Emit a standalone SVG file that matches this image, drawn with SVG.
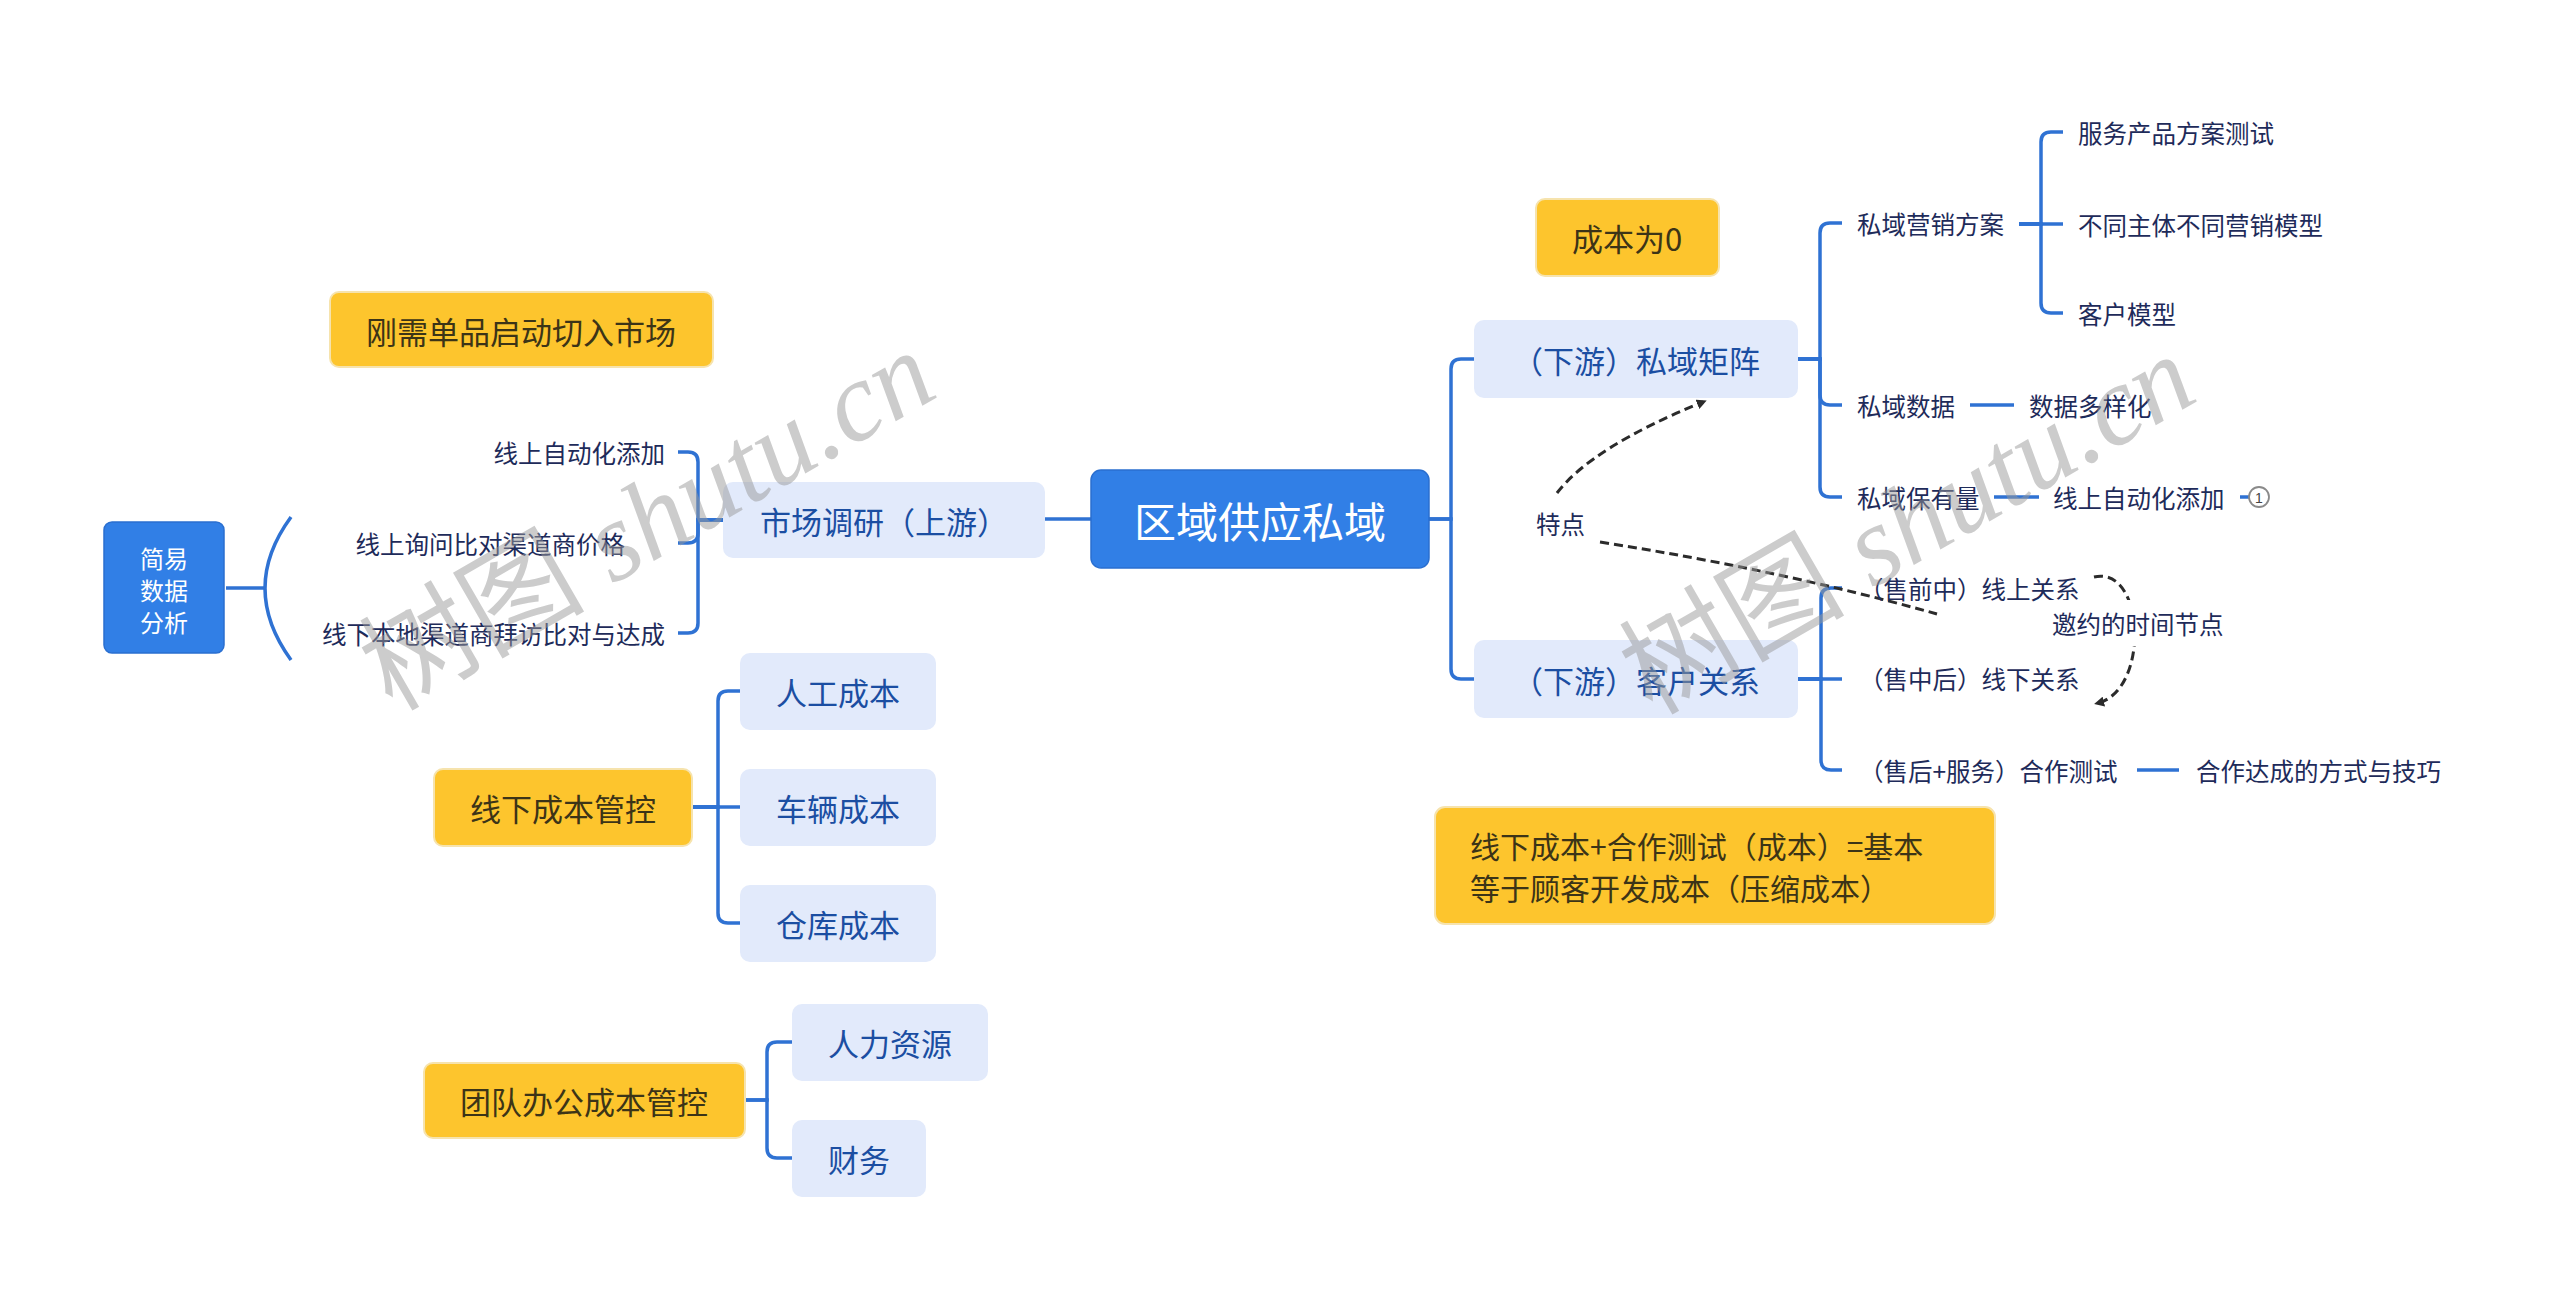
<svg xmlns="http://www.w3.org/2000/svg" width="2560" height="1303" viewBox="0 0 2560 1303">
<style>
.cn{font-family:"Noto Sans CJK SC","Noto Sans",sans-serif}
.main{fill:#317fe6;stroke:#2a6fd0;stroke-width:1.5}
.mainT{fill:#ffffff}
.sub{fill:#e2eafb}
.subT{fill:#1b4ea2;font-size:31px}
.yel{fill:#fdc52d;stroke:#f6e3ad;stroke-width:2}
.yelT{fill:#3c3417;font-size:31px}
.lbl{fill:#1e2b5a;font-size:24.5px}
.con{fill:none;stroke:#2f72d3;stroke-width:3.5;stroke-linecap:butt}
.dash{fill:none;stroke:#2b2b2b;stroke-width:3;stroke-dasharray:9 5}
.wm{font-family:"Liberation Serif","Noto Sans CJK SC",serif;font-size:113px;fill:#9a9a9a;opacity:0.5}
</style>
<defs>
<marker id="arr" markerWidth="10" markerHeight="10" refX="6" refY="5" orient="auto" markerUnits="userSpaceOnUse" viewBox="0 0 10 10">
<path d="M0,0 L10,5 L0,10 z" fill="#2b2b2b"/>
</marker>
</defs>
<rect width="2560" height="1303" fill="#ffffff"/>

<g id="connectors">
<path class="con" d="M1091 519 H1045"/>
<path class="con" d="M723 520 H698 V462 Q698 452 688 452 H678"/>
<path class="con" d="M723 520 H698 V533 Q698 543 688 543 H678"/>
<path class="con" d="M723 520 H698 V623 Q698 633 688 633 H678"/>
<path class="con" d="M226 588 H265"/>
<path class="con" d="M291 517 Q239 588 291 660"/>
<path class="con" d="M1429 519 H1451 V369 Q1451 359 1461 359 H1474"/>
<path class="con" d="M1429 519 H1451 V669 Q1451 679 1461 679 H1474"/>
<path class="con" d="M1798 359 H1820 V233 Q1820 223 1830 223 H1842"/>
<path class="con" d="M1798 359 H1820 V395 Q1820 405 1830 405 H1842"/>
<path class="con" d="M1798 359 H1820 V487 Q1820 497 1830 497 H1842"/>
<path class="con" d="M2019 224 H2041 V142 Q2041 132 2051 132 H2063"/>
<path class="con" d="M2019 224 H2063"/>
<path class="con" d="M2019 224 H2041 V303 Q2041 313 2051 313 H2063"/>
<path class="con" d="M1970 405 H2014"/>
<path class="con" d="M1994 497 H2039"/>
<path class="con" d="M2240 497 H2249"/>
<path class="con" d="M1798 679 H1821 V598 Q1821 588 1831 588 H1842"/>
<path class="con" d="M1798 679 H1842"/>
<path class="con" d="M1798 679 H1821 V760 Q1821 770 1831 770 H1842"/>
<path class="con" d="M2137 770 H2179"/>
<path class="con" d="M692 807 H718 V701 Q718 691 728 691 H740"/>
<path class="con" d="M692 807 H740"/>
<path class="con" d="M692 807 H718 V913 Q718 923 728 923 H740"/>
<path class="con" d="M745 1100 H767 V1052 Q767 1042 777 1042 H792"/>
<path class="con" d="M745 1100 H767 V1148 Q767 1158 777 1158 H792"/>
<path class="dash" d="M1557 493 Q1592 447 1703 402" marker-end="url(#arr)"/>
<path class="dash" d="M1600 542 Q1780 570 1937 614"/>
<path class="dash" d="M2094 577 C2145 565 2150 690 2098 703" marker-end="url(#arr)"/>
</g>

<g id="n-root">
<rect class="main" x="1091" y="470" width="338" height="98" rx="10"/>
<text class="cn mainT" x="1260" y="519" font-size="42" text-anchor="middle" dominant-baseline="central">区域供应私域</text>
</g>

<g id="n-market">
<rect class="sub" x="723" y="482" width="322" height="76" rx="10"/>
<text class="cn subT" x="884" y="520" text-anchor="middle" dominant-baseline="central">市场调研（上游）</text>
</g>
<g id="n-m1"><text class="cn lbl" x="665" y="452" text-anchor="end" dominant-baseline="central">线上自动化添加</text></g>
<g id="n-m2"><text class="cn lbl" x="625" y="543" text-anchor="end" dominant-baseline="central">线上询问比对渠道商价格</text></g>
<g id="n-m3"><text class="cn lbl" x="665" y="633" text-anchor="end" dominant-baseline="central">线下本地渠道商拜访比对与达成</text></g>

<g id="n-simple">
<rect class="main" x="104" y="522" width="120" height="131" rx="8"/>
<text class="cn mainT" font-size="24" text-anchor="middle" dominant-baseline="central"><tspan x="164" y="557">简易</tspan><tspan x="164" y="589">数据</tspan><tspan x="164" y="621">分析</tspan></text>
</g>

<g id="n-rigid">
<rect class="yel" x="330" y="292" width="383" height="75" rx="9"/>
<text class="cn yelT" x="521" y="330" text-anchor="middle" dominant-baseline="central">刚需单品启动切入市场</text>
</g>

<g id="n-offline">
<rect class="yel" x="434" y="769" width="258" height="77" rx="9"/>
<text class="cn yelT" x="563" y="807" text-anchor="middle" dominant-baseline="central">线下成本管控</text>
</g>
<g id="n-labor"><rect class="sub" x="740" y="653" width="196" height="77" rx="10"/><text class="cn subT" x="838" y="691" text-anchor="middle" dominant-baseline="central">人工成本</text></g>
<g id="n-vehicle"><rect class="sub" x="740" y="769" width="196" height="77" rx="10"/><text class="cn subT" x="838" y="807" text-anchor="middle" dominant-baseline="central">车辆成本</text></g>
<g id="n-store"><rect class="sub" x="740" y="885" width="196" height="77" rx="10"/><text class="cn subT" x="838" y="923" text-anchor="middle" dominant-baseline="central">仓库成本</text></g>

<g id="n-team">
<rect class="yel" x="424" y="1063" width="321" height="75" rx="9"/>
<text class="cn yelT" x="584" y="1100" text-anchor="middle" dominant-baseline="central">团队办公成本管控</text>
</g>
<g id="n-hr"><rect class="sub" x="792" y="1004" width="196" height="77" rx="10"/><text class="cn subT" x="890" y="1042" text-anchor="middle" dominant-baseline="central">人力资源</text></g>
<g id="n-fin"><rect class="sub" x="792" y="1120" width="134" height="77" rx="10"/><text class="cn subT" x="859" y="1158" text-anchor="middle" dominant-baseline="central">财务</text></g>

<g id="n-zero">
<rect class="yel" x="1536" y="199" width="183" height="77" rx="9"/>
<text class="cn yelT" x="1627" y="237" text-anchor="middle" dominant-baseline="central">成本为0</text>
</g>

<g id="n-matrix">
<rect class="sub" x="1474" y="320" width="324" height="78" rx="10"/>
<text class="cn subT" x="1636" y="359" text-anchor="middle" dominant-baseline="central">（下游）私域矩阵</text>
</g>
<g id="n-plan"><text class="cn lbl" x="1857" y="223" dominant-baseline="central">私域营销方案</text></g>
<g id="n-p1"><text class="cn lbl" x="2078" y="132" dominant-baseline="central">服务产品方案测试</text></g>
<g id="n-p2"><text class="cn lbl" x="2078" y="224" dominant-baseline="central">不同主体不同营销模型</text></g>
<g id="n-p3"><text class="cn lbl" x="2078" y="313" dominant-baseline="central">客户模型</text></g>
<g id="n-data"><text class="cn lbl" x="1857" y="405" dominant-baseline="central">私域数据</text></g>
<g id="n-data1"><text class="cn lbl" x="2029" y="405" dominant-baseline="central">数据多样化</text></g>
<g id="n-keep"><text class="cn lbl" x="1857" y="497" dominant-baseline="central">私域保有量</text></g>
<g id="n-keep1">
<text class="cn lbl" x="2053" y="497" dominant-baseline="central">线上自动化添加</text>
<circle cx="2259" cy="497" r="10" fill="#ffffff" stroke="#8a8a8a" stroke-width="1.8"/>
<text x="2259" y="498" font-family="Liberation Sans,sans-serif" font-size="14" fill="#444" text-anchor="middle" dominant-baseline="central">1</text>
</g>

<g id="n-feature"><text class="cn lbl" x="1536" y="523" dominant-baseline="central">特点</text></g>

<g id="n-client">
<rect class="sub" x="1474" y="640" width="324" height="78" rx="10"/>
<text class="cn subT" x="1636" y="679" text-anchor="middle" dominant-baseline="central">（下游）客户关系</text>
</g>
<g id="n-c1"><text class="cn lbl" x="1859" y="588" dominant-baseline="central">（售前中）线上关系</text></g>
<g id="n-c2"><text class="cn lbl" x="1859" y="678" dominant-baseline="central">（售中后）线下关系</text></g>
<g id="n-c3"><text class="cn lbl" x="1859" y="770" dominant-baseline="central">（售后+服务）合作测试</text></g>
<g id="n-c3a"><text class="cn lbl" x="2196" y="770" dominant-baseline="central">合作达成的方式与技巧</text></g>

<g id="n-invite">
<rect x="2048" y="600" width="180" height="46" fill="#ffffff"/>
<text class="cn lbl" x="2052" y="623" dominant-baseline="central">邀约的时间节点</text>
</g>

<g id="n-formula">
<rect class="yel" x="1435" y="807" width="560" height="117" rx="10"/>
<text class="cn yelT" style="font-size:30px" dominant-baseline="central"><tspan x="1470" y="845">线下成本+合作测试（成本）=基本</tspan><tspan x="1470" y="887">等于顾客开发成本（压缩成本）</tspan></text>
</g>

<g id="watermarks">
<text class="wm" transform="translate(392 712) rotate(-30)">树图 <tspan font-style="italic">shutu.cn</tspan></text>
<text class="wm" transform="translate(1652 716) rotate(-30)">树图 <tspan font-style="italic">shutu.cn</tspan></text>
</g>
</svg>
